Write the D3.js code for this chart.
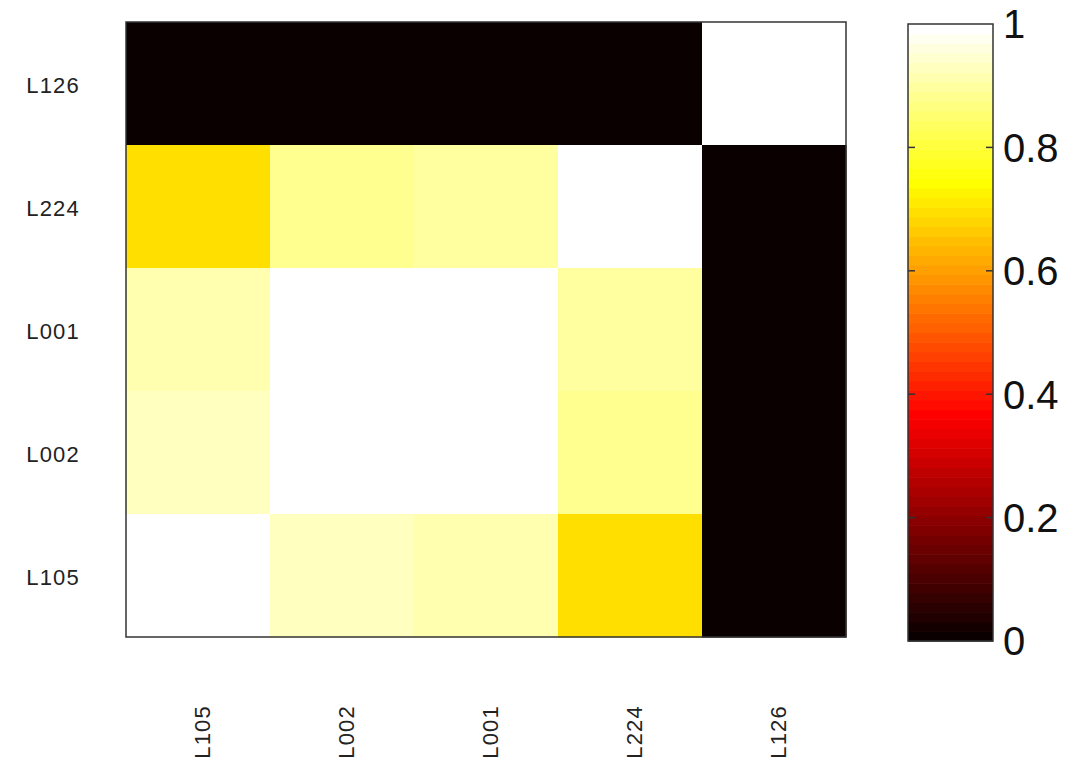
<!DOCTYPE html>
<html>
<head>
<meta charset="utf-8">
<script src="https://cdn.jsdelivr.net/npm/d3@7"></script>
<style>
  html, body { margin: 0; padding: 0; background: #fff; }
  svg { display: block; }
  text { font-family: "Liberation Sans", Arial, sans-serif; }
</style>
</head>
<body>
<svg id="chart" width="1086" height="763"></svg>
<script>
// ---- data ----
const rowLabels = ["L126", "L224", "L001", "L002", "L105"];   // top to bottom
const colLabels = ["L105", "L002", "L001", "L224", "L126"];   // left to right
const rowL126 = [0, 0, 0, 0, 1];
const rowL224 = [0.69, 0.88, 0.895, 1, 0];
const rowL001 = [0.91, 1, 1, 0.895, 0];
const rowL002 = [0.93, 1, 1, 0.88, 0];
const rowL105 = [1, 0.93, 0.91, 0.69, 0];
const matrix = [rowL126, rowL224, rowL001, rowL002, rowL105];
const colorbarTicks = [0, 0.2, 0.4, 0.6, 0.8, 1];
const colorbarTickLabels = ["0", "0.2", "0.4", "0.6", "0.8", "1"];

// ---- MATLAB "hot" colormap, 64 entries ----
const M = 64;
function hotEntry(i) {
  const r = Math.min(1, (i + 1) / 24);
  const g = Math.max(0, Math.min(1, (i + 1 - 24) / 24));
  const b = Math.max(0, Math.min(1, (i + 1 - 48) / 16));
  return d3.rgb(Math.round(r * 255), Math.round(g * 255), Math.round(b * 255)).toString();
}
const hotColors = d3.range(M).map(hotEntry);
const colorIndex = d3.scaleQuantize().domain([0, 1]).range(d3.range(M));
const color = v => hotColors[colorIndex(Math.max(0, Math.min(1, v)))];

const svg = d3.select("#chart");

// ---- heatmap ----
const plot = { left: 126, right: 846, top: 22, bottom: 637 };
const x = d3.scaleBand().domain(colLabels).range([plot.left, plot.right]).padding(0);
const y = d3.scaleBand().domain(rowLabels).range([plot.top, plot.bottom]).padding(0);

const cells = [];
matrix.forEach((row, ri) => row.forEach((v, ci) => cells.push({ r: rowLabels[ri], c: colLabels[ci], v })));

svg.append("g").selectAll("rect")
  .data(cells).join("rect")
  .attr("x", d => x(d.c))
  .attr("y", d => y(d.r))
  .attr("width", x.bandwidth() + 0.5)
  .attr("height", y.bandwidth() + 0.5)
  .attr("fill", d => color(d.v));

svg.append("rect")
  .attr("x", plot.left).attr("y", plot.top)
  .attr("width", plot.right - plot.left).attr("height", plot.bottom - plot.top)
  .attr("fill", "none").attr("stroke", "#333").attr("stroke-width", 1.5);

// y labels
svg.append("g").selectAll("text")
  .data(rowLabels).join("text")
  .attr("x", 80)
  .attr("y", d => y(d) + y.bandwidth() / 2 + 2)
  .attr("dy", "0.35em")
  .attr("text-anchor", "end")
  .attr("font-size", 22)
  .attr("letter-spacing", 1.2)
  .attr("fill", "#222")
  .text(d => d);

// x labels (rotated)
svg.append("g").selectAll("text")
  .data(colLabels).join("text")
  .attr("transform", d => `translate(${x(d) + x.bandwidth() / 2 + 4},705) rotate(-90)`)
  .attr("dy", "0.35em")
  .attr("text-anchor", "end")
  .attr("font-size", 22)
  .attr("letter-spacing", 1.2)
  .attr("fill", "#222")
  .text(d => d);

// ---- colorbar ----
const cb = { left: 908, right: 993, top: 24, bottom: 641 };
const cy = d3.scaleLinear().domain([0, 1]).range([cb.bottom, cb.top]);
const bandH = (cb.bottom - cb.top) / M;

svg.append("g").selectAll("rect")
  .data(d3.range(M)).join("rect")
  .attr("x", cb.left)
  .attr("y", i => cy((i + 1) / M))
  .attr("width", cb.right - cb.left)
  .attr("height", bandH + 0.6)
  .attr("fill", i => hotColors[i]);

svg.append("rect")
  .attr("x", cb.left).attr("y", cb.top)
  .attr("width", cb.right - cb.left).attr("height", cb.bottom - cb.top)
  .attr("fill", "none").attr("stroke", "#333").attr("stroke-width", 1.5);

const tickG = svg.append("g");
colorbarTicks.forEach((t, i) => {
  const yy = cy(t);
  if (t > 0 && t < 1) {
    tickG.append("line").attr("x1", cb.left).attr("x2", cb.left + 7)
      .attr("y1", yy).attr("y2", yy).attr("stroke", "#333").attr("stroke-width", 1.5);
    tickG.append("line").attr("x1", cb.right - 7).attr("x2", cb.right)
      .attr("y1", yy).attr("y2", yy).attr("stroke", "#333").attr("stroke-width", 1.5);
  }
  tickG.append("text")
    .attr("x", 1003)
    .attr("y", yy)
    .attr("dy", "0.36em")
    .attr("font-size", 40)
    .attr("fill", "#111")
    .text(colorbarTickLabels[i]);
});
</script>
</body>
</html>
